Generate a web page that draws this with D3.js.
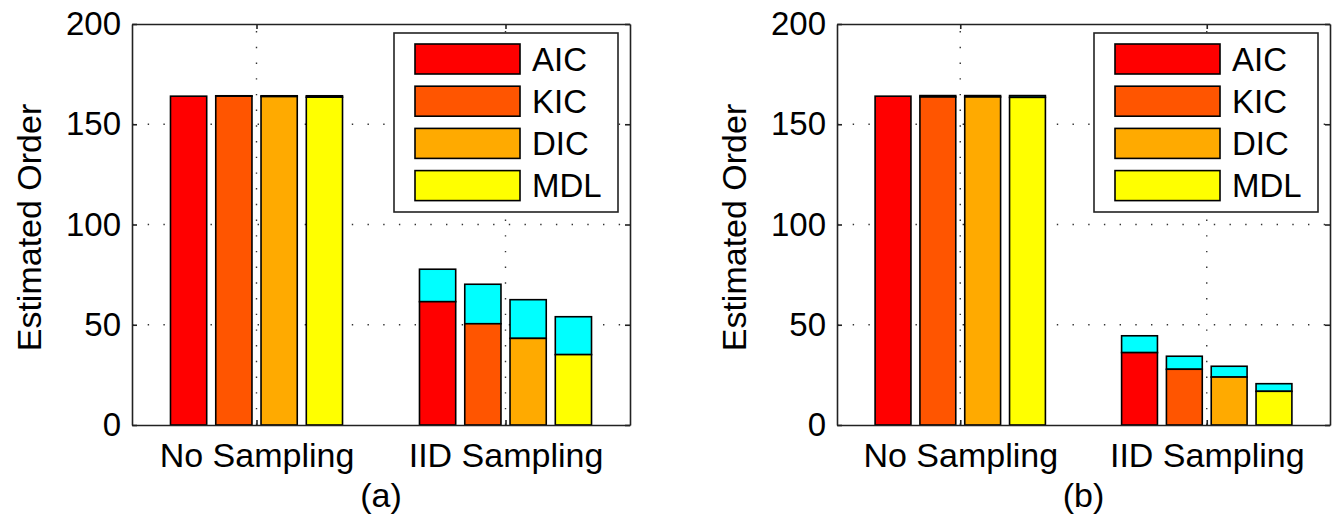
<!DOCTYPE html>
<html>
<head>
<meta charset="utf-8">
<script src="https://cdn.jsdelivr.net/npm/d3@7"></script>
<style>
  body { margin: 0; background: #fff; }
  svg text { font-family: "Liberation Sans", Arial, sans-serif; fill: #000; }
</style>
</head>
<body>
<svg id="chart" width="1339" height="525"></svg>
<script>
// categories
var methods = ["AIC", "KIC", "DIC", "MDL"];
var groups = ["No Sampling", "IID Sampling"];
var methodColors = ["#ff0000", "#ff5500", "#ffaa00", "#ffff00"];
var extraColor = "#00ffff";
var yTicks = [0, 50, 100, 150, 200];

// panel (a): lower part of each bar, and full stacked height
var aBase  = [[164, 164, 163.8, 163.5], [61.5, 50.5, 43.2, 35.1]];
var aTotal = [[164, 164.2, 164.2, 164.2], [77.7, 70.2, 62.5, 54.0]];

// panel (b)
var bBase  = [[164, 163.6, 163.6, 163.4], [36.1, 27.8, 23.9, 16.8]];
var bTotal = [[164, 164.3, 164.3, 164.3], [44.5, 34.3, 29.3, 20.6]];

var svg = d3.select("#chart");

function drawPanel(opt) {
    var left = opt.left, right = opt.right, top = 24, bottom = 425;

    var x = d3.scaleLinear().domain([0.5, 2.5]).range([left, right]);
    var y = d3.scaleLinear().domain([0, 200]).range([bottom, top]);

    var g = svg.append("g");

    // dotted grid
    var gridStyle = function(sel) {
        sel.attr("stroke", "#333")
            .attr("stroke-width", 1.4)
            .attr("stroke-dasharray", "1.4 14.3");
    };
    g.selectAll(".hgrid")
        .data(yTicks.slice(1, -1))
        .enter().append("line")
        .attr("x1", left).attr("x2", right)
        .attr("y1", d => y(d)).attr("y2", d => y(d))
        .call(gridStyle);
    g.selectAll(".vgrid")
        .data([1, 2])
        .enter().append("line")
        .attr("x1", d => x(d)).attr("x2", d => x(d))
        .attr("y1", bottom).attr("y2", top)
        .call(gridStyle);

    // grouped, stacked bars (matlab style widths)
    var slot = Math.min(0.8, methods.length / (methods.length + 1.5)) / methods.length;
    var barW = x(0.8 * slot) - x(0);
    var bars = [];
    groups.forEach(function(grp, gi) {
        methods.forEach(function(m, mi) {
            var cx = x(gi + 1 + (mi - 1.5) * slot);
            bars.push({ cx: cx, base: opt.base[gi][mi], total: opt.total[gi][mi], color: methodColors[mi] });
        });
    });

    var barG = g.append("g");
    bars.forEach(function(d) {
        if (d.total > d.base) {
            barG.append("rect")
                .attr("x", d.cx - barW / 2)
                .attr("width", barW)
                .attr("y", y(d.total))
                .attr("height", y(d.base) - y(d.total))
                .attr("fill", extraColor)
                .attr("stroke", "#000")
                .attr("stroke-width", 1.6);
        }
        barG.append("rect")
            .attr("x", d.cx - barW / 2)
            .attr("width", barW)
            .attr("y", y(d.base))
            .attr("height", y(0) - y(d.base))
            .attr("fill", d.color)
            .attr("stroke", "#000")
            .attr("stroke-width", 1.6);
    });

    // axes (ticks pointing inward, box on)
    var axisStyle = function(sel) {
        sel.select(".domain").attr("stroke", "#222").attr("stroke-width", 1.6);
        sel.selectAll(".tick line").attr("stroke", "#222").attr("stroke-width", 1.6);
        sel.selectAll("text")
            .style("font-family", "'Liberation Sans', Arial, sans-serif")
            .style("font-size", "33px")
            .attr("fill", "#000");
    };

    g.append("g")
        .attr("transform", "translate(" + left + ",0)")
        .call(d3.axisLeft(y).tickValues(yTicks).tickSize(-5).tickPadding(11).tickSizeOuter(0))
        .call(axisStyle);
    g.append("g")
        .attr("transform", "translate(" + right + ",0)")
        .call(d3.axisRight(y).tickValues(yTicks).tickSize(-5).tickFormat("").tickSizeOuter(0))
        .call(axisStyle);
    g.append("g")
        .attr("transform", "translate(0," + bottom + ")")
        .call(d3.axisBottom(x).tickValues([1, 2]).tickSize(-5).tickPadding(18).tickSizeOuter(0)
            .tickFormat(d => groups[d - 1]))
        .call(axisStyle)
        .selectAll("text").style("font-size", "34px");
    g.append("g")
        .attr("transform", "translate(0," + top + ")")
        .call(d3.axisTop(x).tickValues([1, 2]).tickSize(-5).tickFormat("").tickSizeOuter(0))
        .call(axisStyle);

    // y label
    g.append("text")
        .attr("transform", "translate(" + (left - 91) + "," + ((top + bottom) / 2 + 3) + ") rotate(-90)")
        .attr("text-anchor", "middle")
        .style("font-size", "34px")
        .text("Estimated Order");

    // panel caption
    g.append("text")
        .attr("x", (left + right) / 2)
        .attr("y", 507)
        .attr("text-anchor", "middle")
        .style("font-size", "34px")
        .text(opt.caption);

    // legend
    var lgW = 224, lgH = 179;
    var lg = g.append("g")
        .attr("transform", "translate(" + (right - 12 - lgW) + "," + (top + 9) + ")");
    lg.append("rect")
        .attr("width", lgW).attr("height", lgH)
        .attr("fill", "#fff")
        .attr("stroke", "#222")
        .attr("stroke-width", 1.6);
    methods.forEach(function(m, i) {
        var yy = 11 + i * 42.2;
        lg.append("rect")
            .attr("x", 21).attr("y", yy)
            .attr("width", 105).attr("height", 30)
            .attr("fill", methodColors[i])
            .attr("stroke", "#000")
            .attr("stroke-width", 1.6);
        lg.append("text")
            .attr("x", 138)
            .attr("y", yy + 15)
            .attr("dy", "0.36em")
            .style("font-size", "33px")
            .text(m);
    });
}

drawPanel({ left: 132, right: 630, base: aBase, total: aTotal, caption: "(a)" });
drawPanel({ left: 837, right: 1330, base: bBase, total: bTotal, caption: "(b)" });
</script>
</body>
</html>
